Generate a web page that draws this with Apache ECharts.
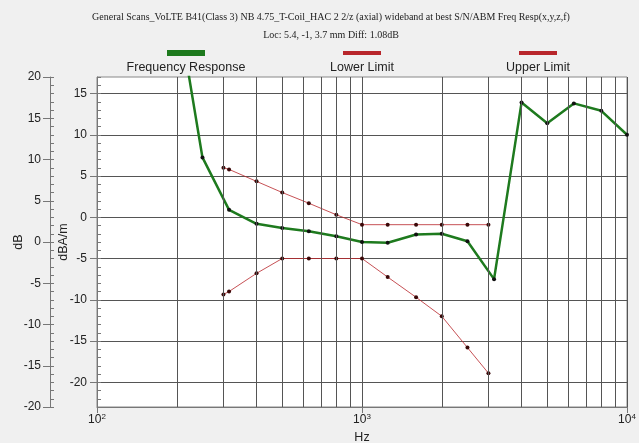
<!DOCTYPE html>
<html>
<head>
<meta charset="utf-8">
<script src="https://cdn.jsdelivr.net/npm/echarts@6/dist/echarts.min.js"></script>
<style>
html, body { margin: 0; padding: 0; background: #f0f0f0; }
#chart { width: 639px; height: 443px; }
</style>
</head>
<body>
<div id="chart"></div>
<script>
// 1/3 octave frequencies of the measured response
const freqs = [200, 250, 315, 400, 500, 630, 800, 1000, 1250, 1600, 2000, 2500, 3150, 4000, 5000, 6300, 8000, 10000];
const response = [26, 7.25, 0.9, -0.8, -1.3, -1.7, -2.3, -3.0, -3.1, -2.1, -2.0, -2.9, -7.5, 13.9, 11.4, 13.8, 12.9, 10.0];

// limit mask
const limitFreqs = [300, 315, 400, 500, 630, 800, 1000, 1250, 1600, 2000, 2500, 3000];
const upperLimit = [6.0, 5.8, 4.35, 3.0, 1.7, 0.3, -0.9, -0.9, -0.9, -0.9, -0.9, -0.9];
const lowerLimit = [-9.35, -9.0, -6.8, -5.0, -5.0, -5.0, -5.0, -7.25, -9.7, -12.0, -15.8, -18.9];

// axes
const decades = [100, 1000, 10000];
const gridFreqs = [200, 300, 400, 500, 600, 700, 800, 900, 2000, 3000, 4000, 5000, 6000, 7000, 8000, 9000];
const dbTicks = [-20, -15, -10, -5, 0, 5, 10, 15, 20];
const dbamTicks = [-20, -15, -10, -5, 0, 5, 10, 15];

const titleLine1 = 'General Scans_VoLTE B41(Class 3) NB 4.75_T-Coil_HAC 2 2/z (axial) wideband at best S/N/ABM Freq Resp(x,y,z,f)';
const titleLine2 = 'Loc: 5.4, -1, 3.7 mm Diff: 1.08dB';

const green = '#1e7a1e';
const red = '#b8262b';
const sans = 'Liberation Sans, Arial, sans-serif';

const pairs = (xs, ys) => xs.map((x, i) => [x, ys[i]]);

const chart = echarts.init(document.getElementById('chart'));

function legendItem(cx, color, h, label) {
    return {
        type: 'group',
        children: [
            { type: 'rect', shape: { x: cx - 19, y: 53 - h / 2, width: 38, height: h }, style: { fill: color } },
            { type: 'text', x: cx, y: 68, style: { text: label, fill: '#222', font: '12.5px ' + sans, textAlign: 'center', textVerticalAlign: 'middle' } }
        ]
    };
}

const labelStyle = { color: '#222', fontSize: 12, fontFamily: sans };
const nameStyle = { color: '#222', fontSize: 12.5, fontFamily: sans };

chart.setOption({
    animation: false,
    backgroundColor: '#f0f0f0',
    grid: {
        left: 97, right: 12, top: 77, bottom: 36, outerBoundsMode: 'none', containLabel: false,
        show: true, backgroundColor: '#fff', borderColor: '#888', borderWidth: 1
    },
    graphic: [
        { type: 'text', x: 331, y: 17, style: { text: titleLine1, fill: '#222', font: '10px Liberation Serif, Times New Roman, serif', textAlign: 'center', textVerticalAlign: 'middle' } },
        { type: 'text', x: 331, y: 35, style: { text: titleLine2, fill: '#222', font: '10px Liberation Serif, Times New Roman, serif', textAlign: 'center', textVerticalAlign: 'middle' } },
        legendItem(186, green, 6, 'Frequency Response'),
        legendItem(362, red, 4, 'Lower Limit'),
        legendItem(538, red, 4, 'Upper Limit')
    ],
    xAxis: {
        type: 'log', logBase: 10, min: 100, max: 10000,
        name: 'Hz', nameLocation: 'middle', nameGap: 22, nameTextStyle: nameStyle,
        axisLine: { onZero: false, lineStyle: { color: '#777' } },
        axisTick: { length: 6, lineStyle: { color: '#777' } },
        axisLabel: {
            margin: 6,
            customValues: decades,
            formatter: v => '{b|10}{s|' + Math.round(Math.log10(v)) + '}',
            rich: {
                b: { fontSize: 12, fontFamily: sans, color: '#222', lineHeight: 14 },
                s: { fontSize: 8, fontFamily: sans, color: '#222', verticalAlign: 'top', lineHeight: 14 }
            }
        },
        splitLine: { show: true, lineStyle: { color: '#555', width: 1 } }
    },
    yAxis: [
        {   // outer dB scale
            type: 'value', position: 'left', offset: 47, min: -20, max: 20, interval: 5,
            name: 'dB', nameLocation: 'middle', nameGap: 25, nameMoveOverlap: false, nameTextStyle: nameStyle,
            axisLine: { show: true, onZero: false, lineStyle: { color: '#777' } },
            axisTick: { length: 7, lineStyle: { color: '#777' }, customValues: dbTicks },
            axisLabel: Object.assign({ margin: 9, customValues: dbTicks }, labelStyle),
            splitLine: { show: false }
        },
        {   // inner dBA/m scale
            type: 'value', position: 'left', offset: 0, min: -23, max: 17, splitNumber: 8, minInterval: 5, maxInterval: 5,
            name: 'dBA/m', nameLocation: 'middle', nameGap: 27, nameMoveOverlap: false, nameTextStyle: nameStyle,
            axisLine: { show: true, onZero: false, lineStyle: { color: '#777' } },
            axisTick: { length: 7, lineStyle: { color: '#777' }, customValues: dbamTicks },
            axisLabel: Object.assign({ margin: 10, customValues: dbamTicks }, labelStyle),
            splitLine: { show: true, lineStyle: { color: '#555', width: 1 } }
        },
        {   // minor ticks, dB
            type: 'value', position: 'left', offset: 47, min: -20, max: 20, interval: 1,
            axisLine: { show: false }, axisLabel: { show: false }, splitLine: { show: false },
            axisTick: { inside: true, length: 4, lineStyle: { color: '#777' } }
        },
        {   // minor ticks, dBA/m
            type: 'value', position: 'left', offset: 0, min: -23, max: 17, interval: 1,
            axisLine: { show: false }, axisLabel: { show: false }, splitLine: { show: false },
            axisTick: { inside: true, length: 4, lineStyle: { color: '#777' } }
        }
    ],
    series: [
        {
            name: 'grid', type: 'line', yAxisIndex: 1, data: [], silent: true, z: 1,
            markLine: {
                silent: true, symbol: 'none', label: { show: false },
                lineStyle: { color: '#555', type: 'solid', width: 1 },
                data: gridFreqs.map(f => ({ xAxis: f }))
            }
        },
        {
            name: 'Lower Limit', type: 'line', yAxisIndex: 1, data: pairs(limitFreqs, lowerLimit),
            lineStyle: { color: red, width: 1, opacity: 0.8 }, symbol: 'circle', symbolSize: 4,
            itemStyle: { color: '#3a0808' }, z: 3
        },
        {
            name: 'Upper Limit', type: 'line', yAxisIndex: 1, data: pairs(limitFreqs, upperLimit),
            lineStyle: { color: red, width: 1, opacity: 0.8 }, symbol: 'circle', symbolSize: 4,
            itemStyle: { color: '#3a0808' }, z: 3
        },
        {
            name: 'Frequency Response', type: 'line', yAxisIndex: 1, data: pairs(freqs, response),
            lineStyle: { color: green, width: 2.5 }, symbol: 'circle', symbolSize: 4,
            itemStyle: { color: '#111' }, z: 4
        }
    ]
});
</script>
</body>
</html>
